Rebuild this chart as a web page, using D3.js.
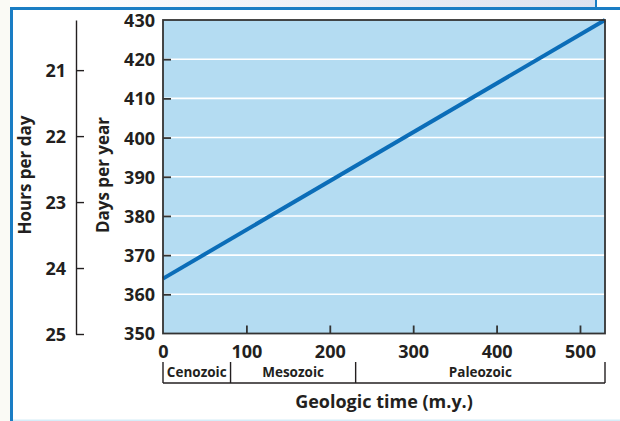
<!DOCTYPE html>
<html>
<head>
<meta charset="utf-8">
<script src="https://cdn.jsdelivr.net/npm/d3@7"></script>
<style>
  html, body { margin: 0; padding: 0; background: #ffffff; }
  svg { display: block; }
  text { font-family: "Open Sans", "DejaVu Sans", sans-serif; fill: #231f20; }
</style>
</head>
<body>
<svg id="chart" width="620" height="421"></svg>
<script>
// ---- data ----
const ages = [0, 530];            // geologic time (m.y.)
const daysPerYear = [364, 430];   // days per year
const dayTicks = [350, 360, 370, 380, 390, 400, 410, 420, 430];
const timeTicks = [0, 100, 200, 300, 400, 500];
const hourTicks = [21, 22, 23, 24, 25];
const eraNames = ["Cenozoic", "Mesozoic", "Paleozoic"];
const eraBounds = [0, 81, 231, 530];

// ---- layout ----
const svg = d3.select("#chart");
const L = 163, R = 605, T = 20, B = 333.5;
const x = d3.scaleLinear().domain([0, 530]).range([L, R]);
const y = d3.scaleLinear().domain([350, 430]).range([B, T]);
const yh = d3.scaleLinear().domain([25, 20.24]).range([334, T]);
const ink = "#231f20";

// ---- frame ----
const defs = svg.append("defs");
const grad = defs.append("linearGradient").attr("id", "topg").attr("x1", "0").attr("x2", "1");
grad.append("stop").attr("offset", "0").attr("stop-color", "#ffffff");
grad.append("stop").attr("offset", "1").attr("stop-color", "#dde2ef");
svg.append("rect").attr("x", 0).attr("y", 0).attr("width", 10).attr("height", 421).attr("fill", "#fafaf5");
svg.append("rect").attr("x", 10).attr("y", 0).attr("width", 586).attr("height", 7).attr("fill", "url(#topg)");
svg.append("rect").attr("x", 595).attr("y", 0).attr("width", 2).attr("height", 8).attr("fill", "#1a7dc4");
svg.append("rect").attr("x", 10).attr("y", 7).attr("width", 610).attr("height", 3).attr("fill", "#1a7dc4");
svg.append("rect").attr("x", 10).attr("y", 7).attr("width", 3).attr("height", 414).attr("fill", "#1a7dc4");
svg.append("rect").attr("x", 13).attr("y", 419.5).attr("width", 607).attr("height", 1.5).attr("fill", "#d6edf8");

// ---- plot background ----
svg.append("rect").attr("x", L).attr("y", T).attr("width", R - L).attr("height", B - T)
  .attr("fill", "#b4dcf2");

// gridlines
svg.append("g").selectAll("line")
  .data(dayTicks.filter(d => d > 350 && d < 430))
  .join("line")
  .attr("x1", L).attr("x2", R)
  .attr("y1", d => y(d)).attr("y2", d => y(d))
  .attr("stroke", "#ffffff").attr("stroke-width", 1.6);

// data line
svg.append("path")
  .datum(ages.map((a, i) => [a, daysPerYear[i]]))
  .attr("fill", "none")
  .attr("stroke", "#0b6db8")
  .attr("stroke-width", 4)
  .attr("d", d3.line().x(d => x(d[0])).y(d => y(d[1])));

// plot border
svg.append("rect").attr("x", L).attr("y", T).attr("width", R - L).attr("height", B - T)
  .attr("fill", "none").attr("stroke", "#333333").attr("stroke-width", 1.8);

// ---- days per year axis (ticks inward) ----
const yAxis = svg.append("g").attr("transform", `translate(${L},0)`)
  .call(d3.axisRight(y).tickValues(dayTicks).tickSize(8).tickFormat(d3.format("d")));
yAxis.select(".domain").remove();
yAxis.selectAll(".tick line").attr("stroke", "#333").attr("stroke-width", 1.8)
  .filter(d => d === 350 || d === 430).remove();
yAxis.selectAll(".tick text")
  .attr("x", -8).attr("text-anchor", "end").attr("dy", "0.36em")
  .style("font-size", "18px").style("font-weight", "700").attr("fill", ink);

// ---- time axis (ticks inward) ----
const xAxis = svg.append("g").attr("transform", `translate(0,${B})`)
  .call(d3.axisTop(x).tickValues(timeTicks).tickSize(8).tickFormat(d3.format("d")));
xAxis.select(".domain").remove();
xAxis.selectAll(".tick line").attr("stroke", "#333").attr("stroke-width", 1.8)
  .filter(d => d === 0).remove();
xAxis.selectAll(".tick text")
  .attr("y", 24).attr("dy", 0)
  .style("font-size", "18px").style("font-weight", "700").attr("fill", ink);

// ---- hours per day axis ----
const hAxis = svg.append("g").attr("transform", "translate(76,0)")
  .call(d3.axisRight(yh).tickValues(hourTicks).tickSize(8).tickSizeOuter(0).tickFormat(d3.format("d")));
hAxis.select(".domain").attr("stroke", ink).attr("stroke-width", 1.4);
hAxis.selectAll(".tick line").attr("stroke", ink).attr("stroke-width", 1.4);
hAxis.selectAll(".tick text")
  .attr("x", -10).attr("text-anchor", "end").attr("dy", "0.36em")
  .style("font-size", "18px").style("font-weight", "700").attr("fill", ink);

// ---- axis titles ----
svg.append("text").attr("transform", "translate(31,175) rotate(-90)")
  .attr("text-anchor", "middle").style("font-size", "17px").style("font-weight", "700")
  .text("Hours per day");
svg.append("text").attr("transform", "translate(108.5,175) rotate(-90)")
  .attr("text-anchor", "middle").style("font-size", "17px").style("font-weight", "700")
  .text("Days per year");
svg.append("text").attr("x", 384).attr("y", 408)
  .attr("text-anchor", "middle").style("font-size", "18px").style("font-weight", "700")
  .text("Geologic time (m.y.)");

// ---- era bracket ----
const eraTop = 362, eraBot = 383;
const era = svg.append("g");
era.append("line").attr("x1", x(eraBounds[0])).attr("x2", x(eraBounds[eraBounds.length - 1]))
  .attr("y1", eraBot).attr("y2", eraBot).attr("stroke", ink).attr("stroke-width", 1.4);
era.selectAll("line.div").data(eraBounds).join("line").attr("class", "div")
  .attr("x1", d => x(d)).attr("x2", d => x(d))
  .attr("y1", eraTop).attr("y2", eraBot)
  .attr("stroke", ink).attr("stroke-width", 1.4);
era.selectAll("text").data(eraNames).join("text")
  .attr("x", (d, i) => (x(eraBounds[i]) + x(eraBounds[i + 1])) / 2)
  .attr("y", 377)
  .attr("text-anchor", "middle")
  .style("font-size", "13.5px").style("font-weight", "700")
  .text(d => d);
</script>
</body>
</html>
